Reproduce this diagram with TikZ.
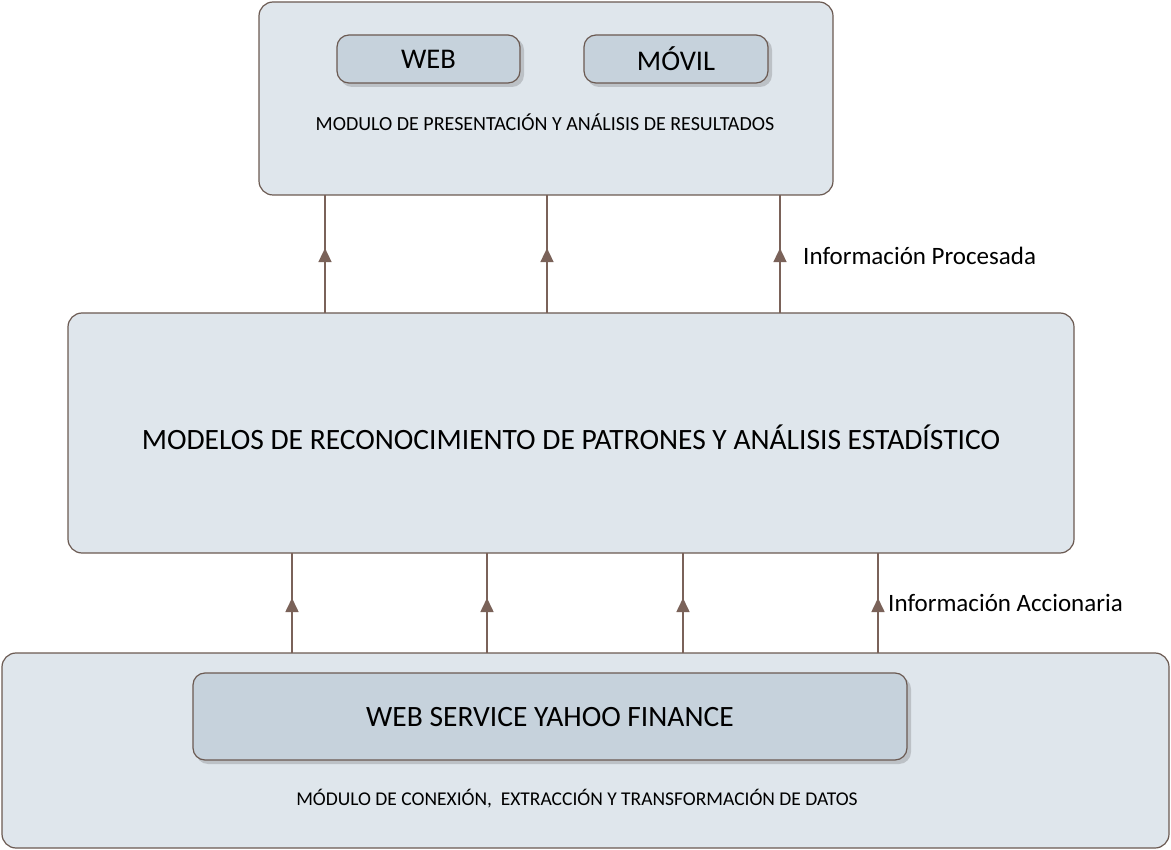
\documentclass[tikz,border=0pt]{standalone}
\usepackage{fontspec}
\setmainfont{Carlito}
\usetikzlibrary{arrows.meta,decorations.markings}
\definecolor{boxfill}{HTML}{DFE6EC}
\definecolor{boxline}{HTML}{6B5A52}
\definecolor{btnfill}{HTML}{C6D2DC}
\definecolor{btnshadow}{HTML}{BCC1C6}
\definecolor{arrowcol}{HTML}{7A6259}
\tikzset{
  panel/.style={draw=boxline, fill=boxfill, line width=1.2pt, rounded corners=14pt},
  button/.style={draw=boxline, fill=btnfill, line width=1.2pt, rounded corners=12pt},
  shadowbox/.style={fill=btnshadow, rounded corners=12pt},
  flow/.style={draw=arrowcol, line width=1.6pt, postaction={decorate},
    decoration={markings, mark=at position 0.55 with {\arrow{Triangle[length=14pt,width=13pt]}}}},
  lbl/.style={inner sep=0pt, anchor=west, font=\fontsize{25}{28}\selectfont},
}
\begin{document}
\begin{tikzpicture}[x=1pt,y=-1pt]
\useasboundingbox (0,0) rectangle (1171,850);
% top panel
\path[panel] (259,2) rectangle (833,195);
\path[shadowbox] (340,38) rectangle (524,87);
\path[button] (337,35) rectangle (520,83);
\node (web) at (428.5,59) {\fontsize{28.5}{30}\selectfont WEB};
\path[shadowbox] (587,38) rectangle (772,87);
\path[button] (584,35) rectangle (768,83);
\node (movil) at (676,59) {\fontsize{28.5}{30}\selectfont MÓVIL};
\node (toptext) at (545,122) {\fontsize{20}{22}\selectfont MODULO DE PRESENTACIÓN Y ANÁLISIS DE RESULTADOS};
% middle panel
\path[panel] (68,313) rectangle (1074,553);
\node (midtext) at (571,437) {\fontsize{29.5}{32}\selectfont MODELOS DE RECONOCIMIENTO DE PATRONES Y ANÁLISIS ESTADÍSTICO};
% bottom panel
\path[panel] (2,653) rectangle (1169,848);
\path[shadowbox] (196,677) rectangle (911,764);
\path[button] (193,673) rectangle (907,760);
\node (ws) at (550,717) {\fontsize{29.5}{32}\selectfont WEB SERVICE YAHOO FINANCE};
\node (bottext) at (577,799) {\fontsize{19.5}{22}\selectfont MÓDULO DE CONEXIÓN,\ \ EXTRACCIÓN Y TRANSFORMACIÓN DE DATOS};
% coordinates for arrows
\coordinate (m1) at (325,313); \coordinate (t1) at (325,195);
\coordinate (m2) at (547,313); \coordinate (t2) at (547,195);
\coordinate (m3) at (780,313); \coordinate (t3) at (780,195);
\coordinate (b1) at (292,653); \coordinate (u1) at (292,553);
\coordinate (b2) at (487,653); \coordinate (u2) at (487,553);
\coordinate (b3) at (683,653); \coordinate (u3) at (683,553);
\coordinate (b4) at (878,653); \coordinate (u4) at (878,553);
\draw[flow] (m1) -- (t1);
\draw[flow] (m2) -- (t2);
\draw[flow] (m3) -- (t3);
\draw[flow] (b1) -- (u1);
\draw[flow] (b2) -- (u2);
\draw[flow] (b3) -- (u3);
\draw[flow] (b4) -- (u4);
\node[lbl] (lp) at (803,256) {Información Procesada};
\node[lbl] (la) at (888,603) {Información Accionaria};
\end{tikzpicture}
\end{document}
